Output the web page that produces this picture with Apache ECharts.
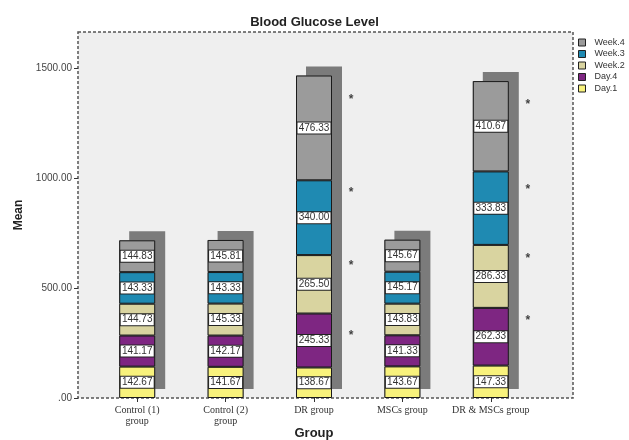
<!DOCTYPE html>
<html>
<head>
<meta charset="utf-8">
<script src="https://cdn.jsdelivr.net/npm/echarts@6/dist/echarts.min.js"></script>
<style>
  html, body { margin: 0; padding: 0; background: #ffffff; }
  #chart { width: 629px; height: 440px; }
</style>
</head>
<body>
<div id="chart"></div>
<script>
// Group names on the x axis
const groups = ['Control (1)\ngroup', 'Control (2)\ngroup', 'DR group', 'MSCs group', 'DR & MSCs group'];

// Mean blood glucose for each time point, per group
const day1  = [142.67, 141.67, 138.67, 143.67, 147.33];
const day4  = [141.17, 142.17, 245.33, 141.33, 262.33];
const week2 = [144.73, 145.33, 265.50, 143.83, 286.33];
const week3 = [143.33, 143.33, 340.00, 145.17, 333.83];
const week4 = [144.83, 145.81, 476.33, 145.67, 410.67];

// Value-axis tick labels
const yTicks = [0, 500, 1000, 1500];

// Significance markers (* beside the DR and DR & MSCs stacks), as [group index, level]
const sigMarks = [
  [2, 295], [2, 614], [2, 945], [2, 1368],
  [4, 364], [4, 645], [4, 959], [4, 1345]
];

const seriesDefs = [
  { name: 'Day.1',  data: day1,  color: '#f8f27c' },
  { name: 'Day.4',  data: day4,  color: '#7e2682' },
  { name: 'Week.2', data: week2, color: '#d9d4a0' },
  { name: 'Week.3', data: week3, color: '#1f8ab2' },
  { name: 'Week.4', data: week4, color: '#9b9b9b' }
];

// Stack totals feed the offset shadow drawn behind each stack
const totals = groups.map((_, i) => seriesDefs.reduce((s, d) => s + d.data[i], 0));

const chart = echarts.init(document.getElementById('chart'), null, { renderer: 'canvas' });

const barW = 36;

const stacked = seriesDefs.map(d => ({
  name: d.name,
  type: 'bar',
  stack: 'glucose',
  barWidth: barW,
  barGap: '-100%',
  z: 3,
  data: d.data,
  itemStyle: { color: d.color, borderColor: '#1a1a1a', borderWidth: 1 },
  label: {
    show: true,
    position: 'inside',
    formatter: p => p.value.toFixed(2),
    fontFamily: 'Arial, "Liberation Sans", sans-serif',
    fontSize: 10,
    color: '#333',
    backgroundColor: '#ffffff',
    borderColor: '#222',
    borderWidth: 1,
    width: 31,
    align: 'center',
    padding: [1, 1, 0, 1]
  },
  emphasis: { disabled: true }
}));

chart.setOption({
  animation: false,
  backgroundColor: '#ffffff',
  title: {
    text: 'Blood Glucose Level',
    left: 'center',
    top: 11,
    textStyle: {
      fontFamily: 'Arial, "Liberation Sans", sans-serif',
      fontSize: 13,
      fontWeight: 'bold',
      color: '#222'
    }
  },
  legend: {
    orient: 'vertical',
    left: 573,
    top: 33,
    itemWidth: 7,
    itemHeight: 7,
    itemGap: 2.5,
    icon: 'rect',
    data: ['Week.4', 'Week.3', 'Week.2', 'Day.4', 'Day.1'],
    itemStyle: { borderColor: '#222', borderWidth: 1 },
    textStyle: {
      fontFamily: 'Arial, "Liberation Sans", sans-serif',
      fontSize: 9,
      lineHeight: 7,
      color: '#333',
      padding: [0, 0, 0, 4]
    }
  },
  graphic: [{
    type: 'rect',
    z: -10,
    silent: true,
    shape: { x: 78, y: 32, width: 495, height: 366 },
    style: { fill: '#efefef', stroke: '#555', lineWidth: 1.5, lineDash: [3, 2] }
  }],
  grid: { left: 93, right: 94, top: 32, bottom: 42, containLabel: false, outerBoundsMode: 'none' },
  xAxis: {
    type: 'category',
    data: groups,
    name: 'Group',
    nameLocation: 'middle',
    nameMoveOverlap: false,
    nameGap: 29,
    nameTextStyle: {
      fontFamily: 'Arial, "Liberation Sans", sans-serif',
      fontSize: 13,
      fontWeight: 'bold',
      color: '#222'
    },
    axisLine: { show: false },
    axisTick: { show: true, alignWithLabel: true, length: 4, lineStyle: { color: '#333' } },
    axisLabel: {
      interval: 0,
      margin: 7,
      fontFamily: '"Liberation Serif", "Times New Roman", serif',
      fontSize: 10,
      lineHeight: 11,
      color: '#333'
    }
  },
  yAxis: {
    type: 'value',
    min: 0,
    max: 1663.6,
    interval: 500,
    offset: 15,
    name: 'Mean',
    nameLocation: 'middle',
    nameMoveOverlap: false,
    nameRotate: 90,
    nameGap: 53,
    nameTextStyle: {
      fontFamily: 'Arial, "Liberation Sans", sans-serif',
      fontSize: 12,
      fontWeight: 'bold',
      color: '#222'
    },
    axisLine: { show: false },
    splitLine: { show: false },
    axisTick: { show: true, length: 4, customValues: yTicks, lineStyle: { color: '#333' } },
    axisLabel: {
      customValues: yTicks,
      margin: 6,
      fontFamily: 'Arial, "Liberation Sans", sans-serif',
      fontSize: 10,
      color: '#444',
      formatter: v => (v === 0 ? '.00' : v.toFixed(2))
    }
  },
  series: [
    {
      name: 'shadow',
      type: 'bar',
      barWidth: barW,
      barGap: '-100%',
      z: 1,
      data: totals,
      silent: true,
      itemStyle: {
        color: '#7b7b7b',
        shadowColor: '#7b7b7b',
        shadowBlur: 0,
        shadowOffsetX: 10,
        shadowOffsetY: -9
      },
      emphasis: { disabled: true }
    },
    ...stacked,
    {
      name: 'sig',
      type: 'scatter',
      data: sigMarks,
      symbolSize: 0,
      silent: true,
      z: 4,
      label: {
        show: true,
        position: 'inside',
        offset: [37, 3],
        formatter: '*',
        fontFamily: 'Arial, "Liberation Sans", sans-serif',
        fontSize: 12,
        fontWeight: 'bold',
        color: '#111'
      }
    }
  ]
});
</script>
</body>
</html>
